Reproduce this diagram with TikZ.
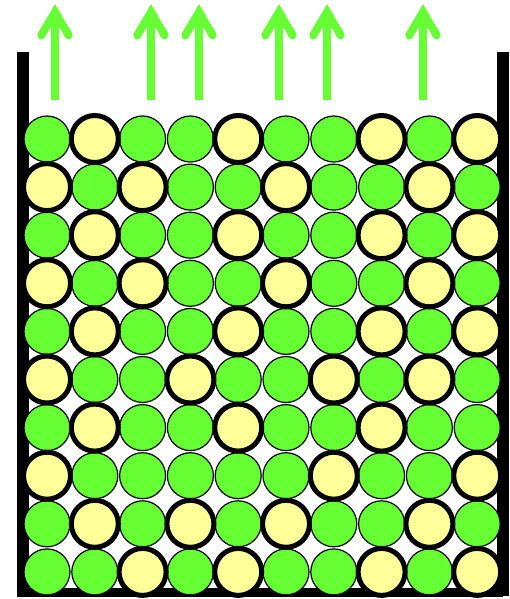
\documentclass[tikz,border=0pt]{standalone}
\definecolor{grn}{RGB}{102,255,51}
\definecolor{ylw}{RGB}{255,255,153}
\begin{document}
\begin{tikzpicture}[x=1pt,y=-1pt,
  greenball/.style={fill=grn,draw=black,line width=1.2pt},
  yellowball/.style={fill=ylw,draw=black,line width=5pt},
  wall/.style={fill=black},
  shaft/.style={draw=grn,line width=8pt},
  barb/.style={draw=grn,line width=8pt,line cap=round,line join=miter}]
\useasboundingbox (0,0) rectangle (509,599);
% container
\fill[wall] (17,52) rectangle (29,597);
\fill[wall] (497,52) rectangle (509,596);
\fill[wall] (17,588) rectangle (503,597);
% green balls everywhere
\foreach \r in {0,...,9}
  \foreach \c in {0,...,9}
    \draw[greenball] (47+47.8*\c, 139+48.1*\r) circle[radius=23];
% yellow balls
\foreach \r/\cols in {0/{1,4,7,9},1/{0,2,5,8},2/{1,4,7,9},3/{0,2,5,8},4/{1,4,7,9},
                      5/{0,3,6,8},6/{1,4,7},7/{0,6,9},8/{1,3,5,8},9/{2,4,7,9}}
  \foreach \c in \cols
    \draw[yellowball] (47+47.8*\c, 139+48.1*\r) circle[radius=23.5];
% arrows
\foreach \x in {55,151,199,279,327,423}{
  \draw[shaft] (\x,100) -- (\x,16);
  \draw[barb] (\x-13.7,35.3) -- (\x,12) -- (\x+13.7,35.3);
}
\end{tikzpicture}
\end{document}
